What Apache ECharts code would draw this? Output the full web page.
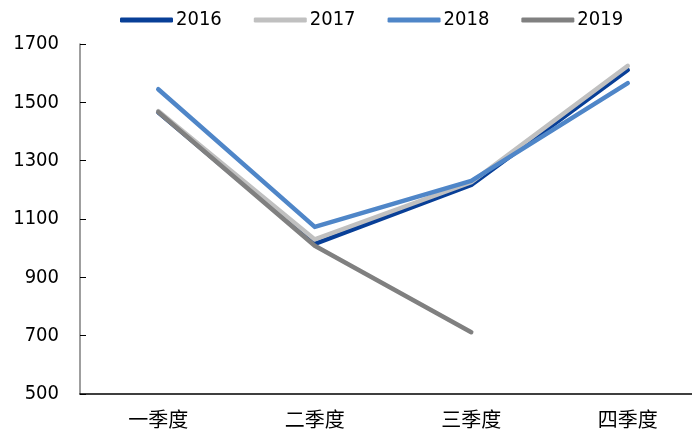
<!DOCTYPE html>
<html>
<head>
<meta charset="utf-8">
<script src="https://cdn.jsdelivr.net/npm/echarts@6/dist/echarts.min.js"></script>
<style>html,body{margin:0;padding:0;background:#fff;}#c{width:692px;height:436px;}</style>
</head>
<body>
<div id="c"></div>
<script>
var categories = ['一季度', '二季度', '三季度', '四季度'];
var seriesNames = ['2016', '2017', '2018', '2019'];
var s2016 = [1466, 1015, 1217, 1611];
var s2017 = [1470, 1030, 1226, 1625];
var s2018 = [1545, 1073, 1231, 1566];
var s2019 = [1467, 1008, 712, null];
var yTicks = [500, 700, 900, 1100, 1300, 1500, 1700];
var colors = ['#083f97', '#c0c0c0', '#4f86c8', '#808080'];

var dataList = [s2016, s2017, s2018, s2019];
var numFont = '"DejaVu Sans Condensed", "DejaVu Sans", sans-serif';
var chart = echarts.init(document.getElementById('c'));
chart.setOption({
  animation: false,
  color: colors,
  legend: {
    top: 5,
    left: 115,
    icon: 'roundRect',
    itemWidth: 53,
    itemHeight: 5,
    itemGap: 32,
    textStyle: { fontFamily: numFont, fontSize: 20, color: '#000', padding: [0, 0, 0, -2] },
    data: seriesNames
  },
  grid: { left: 80, right: -14, top: 44, bottom: 42, containLabel: false, outerBoundsMode: 'none' },
  xAxis: {
    type: 'category',
    data: categories,
    boundaryGap: true,
    axisLine: { lineStyle: { color: '#000', width: 1.5 } },
    axisTick: { inside: true, length: 6, lineStyle: { color: '#000' } },
    axisLabel: { fontFamily: '"Noto Sans CJK SC", sans-serif', fontSize: 20, color: '#000', margin: 15 }
  },
  yAxis: {
    type: 'value',
    min: yTicks[0],
    max: yTicks[yTicks.length - 1],
    interval: 200,
    splitLine: { show: false },
    axisLine: { show: true, lineStyle: { color: '#7f7f7f', width: 1.5 } },
    axisTick: { show: true, inside: true, length: 6, lineStyle: { color: '#000' } },
    axisLabel: { fontFamily: numFont, fontSize: 20, color: '#000', margin: 21, formatter: function (v) { return String(v); } }
  },
  series: seriesNames.map(function (n, i) {
    return {
      name: n,
      type: 'line',
      data: dataList[i],
      showSymbol: false,
      symbol: 'none',
      lineStyle: { width: 4.5, cap: 'round', join: 'round', color: colors[i] },
      itemStyle: { color: colors[i] }
    };
  })
});
</script>
</body>
</html>
